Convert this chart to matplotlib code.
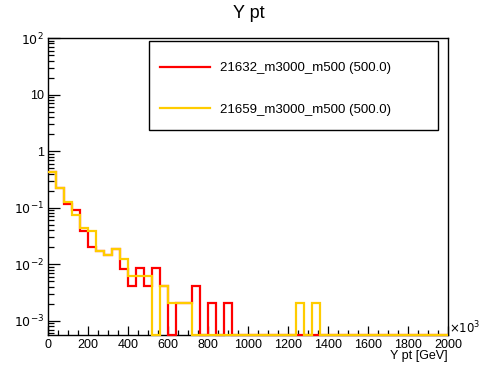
import matplotlib.pyplot as plt
import numpy as np
from matplotlib.patches import Rectangle
from matplotlib.ticker import NullFormatter

plt.rcParams['font.family'] = ['Liberation Sans', 'DejaVu Sans']

# 50 bins of 40 GeV from 0 to 2000
edges = np.arange(0, 2001, 40)

h21632 = [0.43, 0.225, 0.117, 0.091, 0.039, 0.020, 0.0172, 0.0146, 0.0186, 0.0082,
          0.0042, 0.0084, 0.0042, 0.0084, 0.0042, 0, 0.0021, 0.0021, 0.0042, 0,
          0.0021, 0, 0.0021, 0, 0, 0, 0, 0, 0, 0,
          0, 0, 0, 0, 0, 0, 0, 0, 0, 0,
          0, 0, 0, 0, 0, 0, 0, 0, 0, 0]
h21659 = [0.43, 0.225, 0.125, 0.073, 0.043, 0.038, 0.0172, 0.0146, 0.0186, 0.0126,
          0.0062, 0.0062, 0.0062, 0, 0.0042, 0.0021, 0.0021, 0.0021, 0, 0,
          0, 0, 0, 0, 0, 0, 0, 0, 0, 0,
          0, 0.0021, 0, 0.0021, 0, 0, 0, 0, 0, 0,
          0, 0, 0, 0, 0, 0, 0, 0, 0, 0]
labels = ['21632_m3000_m500 (500.0)', '21659_m3000_m500 (500.0)']
colors = ['#ff0000', '#ffcc00']

ymin, ymax = 5.6e-4, 100

fig = plt.figure(figsize=(4.98, 3.74), dpi=100)
ax = fig.add_axes([48 / 498, 1 - 335 / 374, 400 / 498, 297 / 374])

for vals, lab, col in zip([h21632, h21659], labels, colors):
    v = np.maximum(np.array(vals, dtype=float), ymin)
    ax.stairs(v, edges, baseline=None, color=col, lw=1.6, label=lab, clip_on=False, zorder=3)

ax.set_yscale('log')
ax.set_xlim(0, 2000)
ax.set_ylim(ymin, ymax)

ax.set_xticks(np.arange(0, 2001, 200))
ax.set_xticks(np.arange(0, 2001, 50), minor=True)
ax.set_xticklabels([f'{t:g}' for t in np.arange(0, 2001, 200)])
ax.set_yticks([1e-3, 1e-2, 1e-1, 1, 10, 100])
ax.set_yticklabels(['$10^{-3}$', '$10^{-2}$', '$10^{-1}$', '1', '10', '$10^{2}$'])
minors = [m * 10.0 ** d for d in range(-4, 2) for m in range(2, 10)]
minors = [m for m in minors if ymin <= m <= ymax]
ax.set_yticks(minors, minor=True)
ax.yaxis.set_minor_formatter(NullFormatter())
ax.tick_params(which='both', direction='in', top=False, right=False, labelsize=9, pad=3,
               width=0.9, color='black')
ax.tick_params(axis='x', which='major', length=6.5)
ax.tick_params(axis='x', which='minor', length=3.5)
ax.tick_params(axis='y', which='major', length=8.5)
ax.tick_params(axis='y', which='minor', length=4.5)
for s in ax.spines.values():
    s.set_linewidth(1)

fig.text(0.5, 1 - 14 / 374, 'Y pt', ha='center', va='center', fontsize=13)
fig.text(448 / 498, 1 - 356 / 374, 'Y pt [GeV]', ha='right', va='center', fontsize=9)
fig.text(449 / 498, 1 - 328 / 374, r'$\times10^{3}$', ha='left', va='center', fontsize=8.5)

# legend box
fig.add_artist(Rectangle((149 / 498, 1 - 130 / 374), 289 / 498, 89 / 374,
                         transform=fig.transFigure, fill=True, fc='white', ec='black', lw=1, zorder=5))
leg = fig.legend(loc='upper left', bbox_to_anchor=(160 / 498, 1 - 62 / 374), frameon=False,
                 fontsize=9.5, handlelength=3.8, handletextpad=0.75, labelspacing=2.2,
                 borderpad=0, borderaxespad=0)
leg.set_zorder(6)

fig.savefig('out.png', dpi=100)
